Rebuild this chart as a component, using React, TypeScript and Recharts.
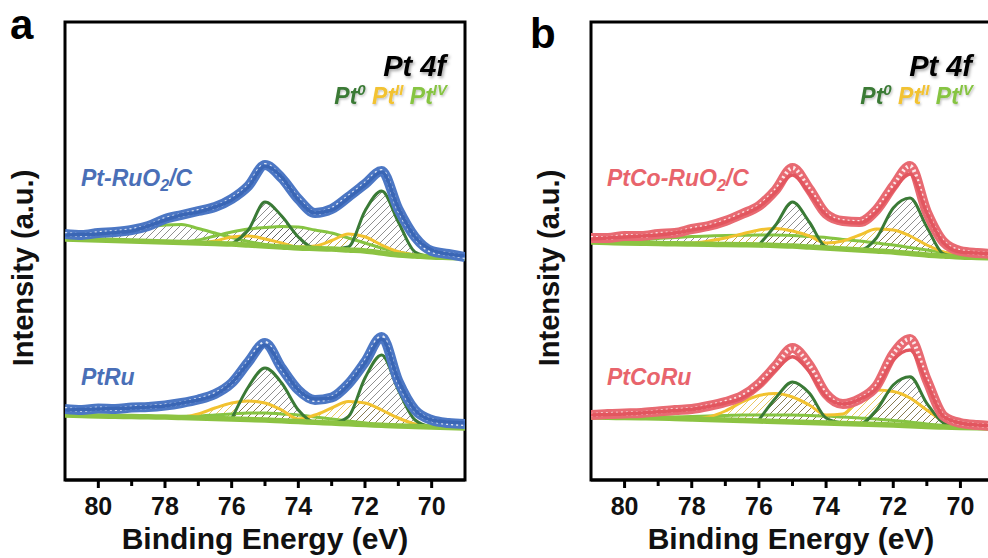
import React from 'react';
import { ComposedChart, Line, Area, XAxis, YAxis, ReferenceArea } from 'recharts';

const FONT = '"Liberation Sans", Arial, Helvetica, sans-serif';
const _ = null;

// Binding energy grid (eV)
const energies = [81, 80.5, 80, 79.5, 79, 78.5, 78, 77.5, 77, 76.5, 76, 75.5, 75, 74.5, 74, 73.5, 73, 72.5, 72, 71.5, 71, 70.5, 70, 69.5, 69];
const energyTicks = [80, 79, 78, 77, 76, 75, 74, 73, 72, 71, 70];

// ---- Panel a, upper: Pt-RuO2/C ----
const ptRuO2Exp = [246, 245, 247, 248, 250, 254, 261, 265, 269, 273, 281, 294, 315, 302, 281, 267, 271, 283, 296, 309, 271, 243, 229, 226, 223];
const ptRuO2Fit = [245, 245.5, 246, 247.5, 249, 254, 260, 265, 268, 273, 280, 293, 314, 303, 280, 267, 270, 282, 295, 308, 272, 243, 230, 226, 224];
const ptRuO2Bg = [241, 240.5, 240, 239.5, 239, 238.5, 238, 237.5, 237, 236.5, 236, 235, 234, 233, 232, 231.5, 231, 230, 229, 227, 225, 224, 223, 222.5, 222];
const ptRuO2Pt0 = [_, _, _, _, _, _, _, _, _, _, 236, 250, 278, 264, 243, 231.5, 231, 233, 269, 289, 258, 228, 223, _, _];
const ptRuO2Pt2 = [_, _, _, _, _, _, _, _, 237, 239, 243, 244, 241, 237, 233, 234, 239.5, 246, 243.3, 235, 228.3, 225, 223, _, _];
const ptRuO2Pt4a = [244, 245.5, 247, 249.5, 251, 253, 255, 255.5, 251.5, 247, 242.5, 238.5, 235.5, 233, _, _, _, _, _, _, _, _, _, _, _];
const ptRuO2Pt4b = [_, _, _, _, _, _, _, 238, 240, 244, 248, 251, 252.5, 253.5, 253, 250, 247, 242, 237, 232, 228, 225, 223, _, _];

// ---- Panel a, lower: PtRu ----
const ptRuExp = [71, 70, 71.5, 71, 72.5, 73, 74.5, 77, 80.5, 86, 97, 118, 137, 112, 90, 80, 82.5, 96, 118, 143, 99, 70, 60, 57, 56];
const ptRuFit = [70, 70.5, 71, 71.5, 72, 73, 74, 77, 80, 85, 97, 117, 135, 113, 90, 81, 82, 95, 117, 141, 100, 70, 60, 58, 57];
const ptRuBg = [65, 64.5, 64, 63.7, 63.5, 63.2, 63, 62.5, 62, 61.5, 61, 60.5, 60, 59.2, 58.5, 57.7, 57, 56.2, 55.5, 54.7, 54, 53.5, 53, 52.5, 52];
const ptRuPt0 = [_, _, _, _, _, _, _, _, _, _, 61, 93, 112, 97, 70, 57.7, 57, 63.3, 102, 125, 90, 60, 53, _, _];
const ptRuPt2 = [_, _, _, _, _, _, _, 62.5, 66, 72, 77, 79, 77, 70, 61, 65, 72, 78.5, 77, 70, 62, 56, 53, _, _];
const ptRuPt4 = [_, _, _, _, _, _, 63, 63.5, 64, 65, 66, 67, 67, 66, 65, 63, 61, 59, 57, 55, 54, _, _, _, _];

// ---- Panel b, upper: PtCo-RuO2/C ----
const ptCoRuO2Exp = [242, 242, 244, 244, 246, 247, 251, 254, 259, 266, 274, 290, 312, 291, 266, 259, 258, 270, 294, 314, 268, 238, 229, 227, 226];
const ptCoRuO2Fit = [241, 242, 243, 244, 245, 247, 250, 253, 258, 265, 273, 288, 305, 287, 265, 258, 257, 268, 290, 306, 267, 237, 228, 227, 226];
const ptCoRuO2Bg = [238, 237.5, 237, 236.7, 236.5, 236.2, 236, 235.7, 235.5, 235.2, 235, 234.5, 234, 233, 232, 231, 230, 229, 228, 226.5, 225, 224, 223, 222.5, 222];
const ptCoRuO2Pt0 = [_, _, _, _, _, _, _, _, _, _, 235, 255, 278, 258, 233, 231, 230, 242, 272, 282, 253, 226, 223, _, _];
const ptCoRuO2Pt2 = [_, _, _, _, 236.5, 236.7, 237, 239, 242, 246, 250, 251.5, 249, 244, 237, 239, 245, 251, 250, 244, 235, 228, 224, _, _];
const ptCoRuO2Pt4 = [238, 238.5, 239, 240, 241.5, 242.5, 243.5, 244, 244.5, 244.8, 245, 245, 244.5, 243.5, 242.5, 240.5, 239, 237, 235, 232.5, 230, 227.5, 225, 223, 222];

// ---- Panel b, lower: PtCoRu ----
const ptCoRuExp = [65, 66, 66.5, 67, 68.5, 70, 71, 74, 78, 84, 96, 114, 132, 115, 86, 76, 81, 94, 126, 141, 100, 64, 57, 55, 54];
const ptCoRuFit = [65, 65.5, 66, 67, 68.3, 69.5, 70.7, 73.5, 77, 82, 93.3, 110, 123.3, 108.3, 83.3, 76, 80.7, 91.7, 120, 130, 97, 63.3, 57, 55, 54];
const ptCoRuBg = [63, 62.7, 62.5, 62.2, 62, 61.5, 61, 60.5, 60, 59.5, 59, 58.5, 58, 57.5, 57, 56.5, 56, 55.5, 55, 54.2, 53.5, 53, 52.5, 52.2, 52];
const ptCoRuPt0 = [_, _, _, _, _, _, _, _, _, _, 60, 82, 98, 87, 62, 57, 56, 70, 95, 103.3, 76.7, 57, 52.5, _, _];
const ptCoRuPt2 = [_, _, _, _, _, _, 61, 63, 69, 78, 84.5, 86.5, 83, 75, 65, 66, 82, 90, 88.5, 82, 70, 59, 53, _, _];
const ptCoRuPt4 = [_, _, _, _, 62.5, 63, 63.5, 64, 64.5, 65, 65, 65, 65, 64.5, 64, 63, 62, 61, 59.5, 58, 56, 54.5, 53, _, _];

type Kind = 'pt0' | 'pt2' | 'pt4';
type Comp = { values: (number | null)[]; kind: Kind };
type Sample = { exp: number[]; fit: number[]; bg: number[]; comps: Comp[] };

const COMP_COLORS: Record<Kind, string> = { pt0: '#3a7a36', pt2: '#f2c230', pt4: '#86c442' };
const BG_COLOR = '#8cc342';
const KIND_ORDER: Kind[] = ['pt4', 'pt2', 'pt0'];

const samplesA: Sample[] = [
  { exp: ptRuO2Exp, fit: ptRuO2Fit, bg: ptRuO2Bg, comps: [
    { values: ptRuO2Pt4a, kind: 'pt4' }, { values: ptRuO2Pt4b, kind: 'pt4' },
    { values: ptRuO2Pt2, kind: 'pt2' }, { values: ptRuO2Pt0, kind: 'pt0' }] },
  { exp: ptRuExp, fit: ptRuFit, bg: ptRuBg, comps: [
    { values: ptRuPt4, kind: 'pt4' }, { values: ptRuPt2, kind: 'pt2' }, { values: ptRuPt0, kind: 'pt0' }] },
];
const samplesB: Sample[] = [
  { exp: ptCoRuO2Exp, fit: ptCoRuO2Fit, bg: ptCoRuO2Bg, comps: [
    { values: ptCoRuO2Pt4, kind: 'pt4' }, { values: ptCoRuO2Pt2, kind: 'pt2' }, { values: ptCoRuO2Pt0, kind: 'pt0' }] },
  { exp: ptCoRuExp, fit: ptCoRuFit, bg: ptCoRuBg, comps: [
    { values: ptCoRuPt4, kind: 'pt4' }, { values: ptCoRuPt2, kind: 'pt2' }, { values: ptCoRuPt0, kind: 'pt0' }] },
];

function buildRows(samples: Sample[]) {
  return energies.map((e, i) => {
    const row: Record<string, any> = { e };
    samples.forEach((s, si) => {
      row[`exp${si}`] = s.exp[i];
      row[`fit${si}`] = s.fit[i];
      row[`bg${si}`] = s.bg[i];
      s.comps.forEach((c, ci) => {
        const v = c.values[i];
        row[`c${si}_${ci}`] = v;
        row[`r${si}_${ci}`] = v == null ? null : [s.bg[i], v];
      });
    });
    return row;
  });
}

function EnergyTick(props: any) {
  const { x, y, payload } = props;
  const v = payload.value;
  const major = v % 2 === 0;
  return (
    <g>
      <line x1={x} x2={x} y1={y} y2={y + (major ? 8 : 6)} stroke="#000" strokeWidth={3} />
      {major && (
        <text x={x} y={y + 35} textAnchor="middle" fontFamily={FONT} fontWeight="bold" fontSize={25} fill="#111">
          {v}
        </text>
      )}
    </g>
  );
}

function Panel({ id, samples, color, dark, left, rightMargin }: { id: string; samples: Sample[]; color: string; dark: string; left: number; rightMargin: number }) {
  const rows = buildRows(samples);
  const fills: React.ReactNode[] = [];
  const compLines: React.ReactNode[] = [];
  const bgLines: React.ReactNode[] = [];
  const expLines: React.ReactNode[] = [];
  samples.forEach((s, si) => {
    s.comps.forEach((c, ci) => {
      fills.push(
        <Area key={`f${si}_${ci}`} dataKey={`r${si}_${ci}`} type="monotone" stroke="none"
          fill={`url(#${id}-${c.kind === 'pt2' ? 'hy' : 'hd'})`} fillOpacity={1}
          isAnimationActive={false} connectNulls={false} activeDot={false} />
      );
    });
    KIND_ORDER.forEach((k) => {
      s.comps.forEach((c, ci) => {
        if (c.kind !== k) return;
        compLines.push(
          <Line key={`l${si}_${ci}`} dataKey={`c${si}_${ci}`} type="monotone" stroke={COMP_COLORS[k]}
            strokeWidth={3} dot={false} activeDot={false} isAnimationActive={false} connectNulls={false} />
        );
      });
    });
    bgLines.push(
      <Line key={`bg${si}`} dataKey={`bg${si}`} type="monotone" stroke={BG_COLOR} strokeWidth={5.5}
        dot={false} activeDot={false} isAnimationActive={false} />
    );
    expLines.push(
      <Line key={`ex${si}`} dataKey={`exp${si}`} type="monotone" stroke={color} strokeWidth={10}
        dot={false} activeDot={false} isAnimationActive={false} />,
      <Line key={`exw${si}`} dataKey={`exp${si}`} type="monotone" stroke="#ffffff" strokeOpacity={0.85}
        strokeWidth={4} strokeDasharray="2 3" dot={false} activeDot={false} isAnimationActive={false} />,
      <Line key={`fit${si}`} dataKey={`fit${si}`} type="monotone" stroke={dark} strokeWidth={3.5}
        dot={false} activeDot={false} isAnimationActive={false} />
    );
  });

  return (
    <div style={{ position: 'absolute', left, top: 0 }}>
      <ComposedChart width={470} height={558} data={rows} margin={{ top: 22, right: rightMargin, bottom: 38, left: 65 }}>
        <defs>
          <pattern id={`${id}-hd`} patternUnits="userSpaceOnUse" width={7} height={7}>
            <path d="M0,7 L7,0 M-1,1 L1,-1 M6,8 L8,6" stroke="#444" strokeWidth={0.6} />
          </pattern>
          <pattern id={`${id}-hy`} patternUnits="userSpaceOnUse" width={7} height={7}>
            <path d="M0,7 L7,0 M-1,1 L1,-1 M6,8 L8,6" stroke="#e0b020" strokeWidth={0.7} />
          </pattern>
        </defs>
        <XAxis dataKey="e" type="number" domain={[69, 81]} reversed ticks={energyTicks} interval={0}
          allowDataOverflow height={40} tickSize={0} tickMargin={0} tickLine={false}
          axisLine={{ stroke: '#000', strokeWidth: 3 }} tick={<EnergyTick />} />
        <YAxis type="number" domain={[0, 458]} hide width={0} allowDataOverflow />
        {fills}
        {compLines}
        {bgLines}
        {expLines}
        <ReferenceArea x1={81} x2={69} y1={0} y2={458} fill="none" stroke="#000" strokeWidth={3} ifOverflow="visible" />
      </ComposedChart>
    </div>
  );
}

function Labels() {
  const panels = [
    { dx: 0, letter: 'a', letterX: 10, letterY: 39, top: 'Pt-RuO', topEnd: '/C', bottom: 'PtRu', color: '#4a6fb7' },
    { dx: 526, letter: 'b', letterX: 530, letterY: 48, top: 'PtCo-RuO', topEnd: '/C', bottom: 'PtCoRu', color: '#e8646c' },
  ];
  return (
    <svg width={988} height={558} style={{ position: 'absolute', left: 0, top: 0, pointerEvents: 'none' }}>
      <defs>
        <filter id="shadow" x="-20%" y="-30%" width="140%" height="160%">
          <feDropShadow dx="1.5" dy="2" stdDeviation="1.5" floodColor="#000" floodOpacity="0.35" />
        </filter>
        <filter id="shadowLight" x="-20%" y="-30%" width="140%" height="160%">
          <feDropShadow dx="1" dy="1.5" stdDeviation="1.2" floodColor="#000" floodOpacity="0.25" />
        </filter>
      </defs>
      {panels.map((p) => (
        <g key={p.letter} fontFamily={FONT}>
          <text x={p.letterX} y={p.letterY} fontSize={42} fontWeight="bold" fill="#000">{p.letter}</text>
          <text transform={`translate(${33 + p.dx},268) rotate(-90)`} textAnchor="middle" fontSize={29} fontWeight="bold" fill="#111">
            Intensity (a.u.)
          </text>
          <text x={265 + p.dx} y={549} textAnchor="middle" fontSize={30} fontWeight="bold" fill="#111">
            Binding Energy (eV)
          </text>
          <text x={446 + p.dx} y={76} textAnchor="end" fontSize={29} fontWeight="bold" fontStyle="italic" fill="#000" filter="url(#shadow)">
            Pt 4f
          </text>
          <text x={447 + p.dx} y={104} textAnchor="end" fontSize={23} fontWeight="bold" fontStyle="italic" filter="url(#shadowLight)">
            <tspan fill={COMP_COLORS.pt0}>Pt</tspan>
            <tspan fill={COMP_COLORS.pt0} fontSize={15} dy={-9}>0</tspan>
            <tspan fill={COMP_COLORS.pt2} dy={9}> Pt</tspan>
            <tspan fill={COMP_COLORS.pt2} fontSize={15} dy={-9}>II</tspan>
            <tspan fill={COMP_COLORS.pt4} dy={9}> Pt</tspan>
            <tspan fill={COMP_COLORS.pt4} fontSize={15} dy={-9}>IV</tspan>
          </text>
          <text x={81 + p.dx} y={186} fontSize={23} fontWeight="bold" fontStyle="italic" fill={p.color}>
            <tspan>{p.top}</tspan>
            <tspan fontSize={16} dy={5}>2</tspan>
            <tspan dy={-5}>{p.topEnd}</tspan>
          </text>
          <text x={81 + p.dx} y={385} fontSize={23} fontWeight="bold" fontStyle="italic" fill={p.color}>
            {p.bottom}
          </text>
        </g>
      ))}
    </svg>
  );
}

export default function App() {
  return (
    <div style={{ position: 'absolute', left: 0, top: 0, width: 988, height: 558, overflow: 'hidden', background: '#fff' }}>
      <Panel id="pa" samples={samplesA} color="#4c77c4" dark="#3a66b5" left={0} rightMargin={5} />
      <Panel id="pb" samples={samplesB} color="#e86a72" dark="#e2565f" left={526} rightMargin={2} />
      <Labels />
    </div>
  );
}
